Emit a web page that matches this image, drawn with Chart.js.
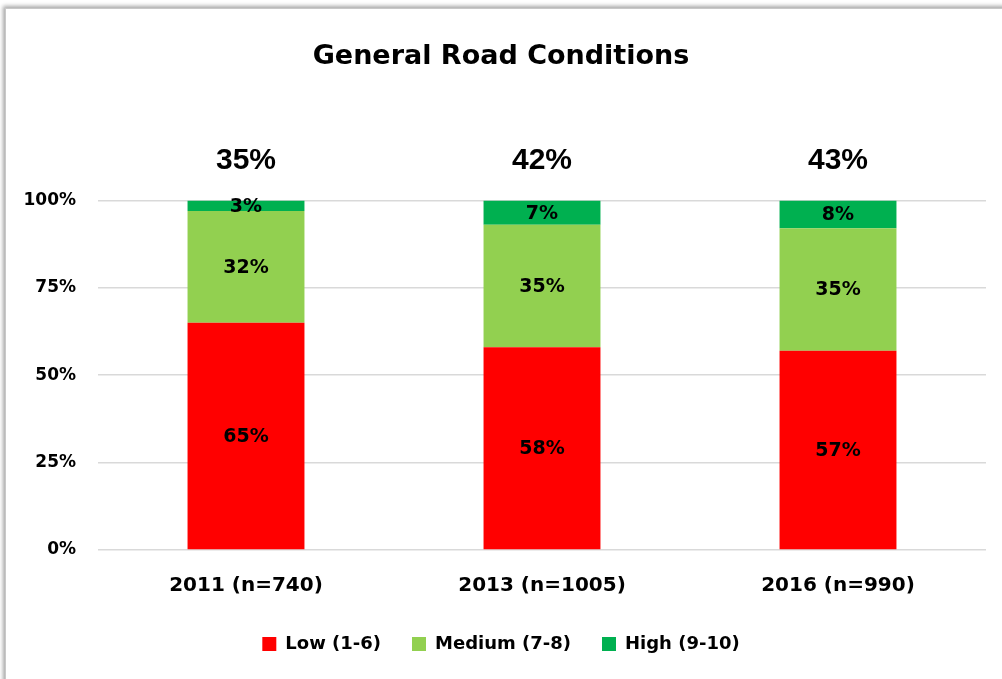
<!DOCTYPE html>
<html>
<head>
<meta charset="utf-8">
<script src="https://cdn.jsdelivr.net/npm/chart.js@4.4.1/dist/chart.umd.min.js"></script>
<style>
  html, body { margin: 0; padding: 0; background: #fff; overflow: hidden; }
  #frame {
    position: absolute; left: 5px; top: 8px; width: 1100px; height: 800px;
    border: 1px solid #c8c8c8; background: #fff;
    box-shadow: -2px -2px 4px rgba(0,0,0,0.35);
  }
  #wrap { position: absolute; left: 0; top: 0; width: 1002px; height: 679px; }
</style>
</head>
<body>
<div id="frame"></div>
<div id="wrap"><canvas id="roadChart" width="1002" height="679"></canvas></div>
<script>
// General Road Conditions - stacked 100% bars
const years = ["2011 (n=740)", "2013 (n=1005)", "2016 (n=990)"];
const lowValues = [65, 58, 57];
const mediumValues = [32, 35, 35];
const highValues = [3, 7, 8];
const topTotals = ["35%", "42%", "43%"];
const yTicks = [0, 25, 50, 75, 100];

const mainFont = "'DejaVu Sans', sans-serif";

// labels inside segments + totals above bars
const labelPlugin = {
    id: 'labelPlugin',
    afterDatasetsDraw(chart) {
        const ctx = chart.ctx;
        ctx.save();
        ctx.fillStyle = '#000';
        ctx.textAlign = 'center';
        ctx.textBaseline = 'middle';
        ctx.font = "bold 19px " + mainFont;
        chart.data.datasets.forEach((ds, i) => {
            const meta = chart.getDatasetMeta(i);
            meta.data.forEach((bar, j) => {
                const mid = (bar.y + bar.base) / 2;
                ctx.fillText(ds.data[j] + '%', bar.x, mid + 1);
            });
        });
        const yScale = chart.scales.y;
        ctx.font = "bold 30px 'Liberation Sans', Arial, sans-serif";
        chart.getDatasetMeta(0).data.forEach((bar, j) => {
            ctx.fillText(topTotals[j], bar.x, yScale.getPixelForValue(100) - 40);
        });
        ctx.restore();
    }
};

function createRoadChart() {
    const ctx = document.getElementById('roadChart');
    new Chart(ctx, {
        type: 'bar',
        data: {
            labels: years,
            datasets: [{
                label: 'Low (1-6)',
                data: lowValues,
                backgroundColor: '#ff0000',
                categoryPercentage: 1,
                barPercentage: 0.395
            }, {
                label: 'Medium (7-8)',
                data: mediumValues,
                backgroundColor: '#92d050',
                categoryPercentage: 1,
                barPercentage: 0.395
            }, {
                label: 'High (9-10)',
                data: highValues,
                backgroundColor: '#00b050',
                categoryPercentage: 1,
                barPercentage: 0.395
            }]
        },
        options: {
            responsive: false,
            animation: { duration: 0 },
            layout: { padding: { top: 41, left: 16, right: 16, bottom: 16 } },
            plugins: {
                title: {
                    display: true,
                    text: 'General Road Conditions',
                    color: '#000',
                    font: { family: mainFont, size: 27, weight: 'bold' },
                    padding: { top: 0, bottom: 127 }
                },
                legend: {
                    position: 'bottom',
                    labels: {
                        color: '#000',
                        font: { family: mainFont, size: 18, weight: 'bold' },
                        boxWidth: 14,
                        boxHeight: 14,
                        padding: 31
                    }
                },
                tooltip: { enabled: false }
            },
            scales: {
                x: {
                    stacked: true,
                    grid: { display: false },
                    border: { display: false },
                    afterFit: (axis) => { axis.height = 54; },
                    ticks: {
                        color: '#000',
                        font: { family: mainFont, size: 20, weight: 'bold' },
                        padding: 16
                    }
                },
                y: {
                    stacked: true,
                    min: 0,
                    max: 100,
                    afterBuildTicks: (axis) => { axis.ticks = yTicks.map(v => ({ value: v })); },
                    afterFit: (axis) => { axis.width = 82; },
                    grid: { color: '#d9d9d9', lineWidth: 1.5, drawTicks: false },
                    border: { display: false },
                    ticks: {
                        color: '#000',
                        font: { family: mainFont, size: 17, weight: 'bold' },
                        padding: 22,
                        callback: (v) => v + '%'
                    }
                }
            }
        },
        plugins: [labelPlugin]
    });
}

createRoadChart();
</script>
</body>
</html>
